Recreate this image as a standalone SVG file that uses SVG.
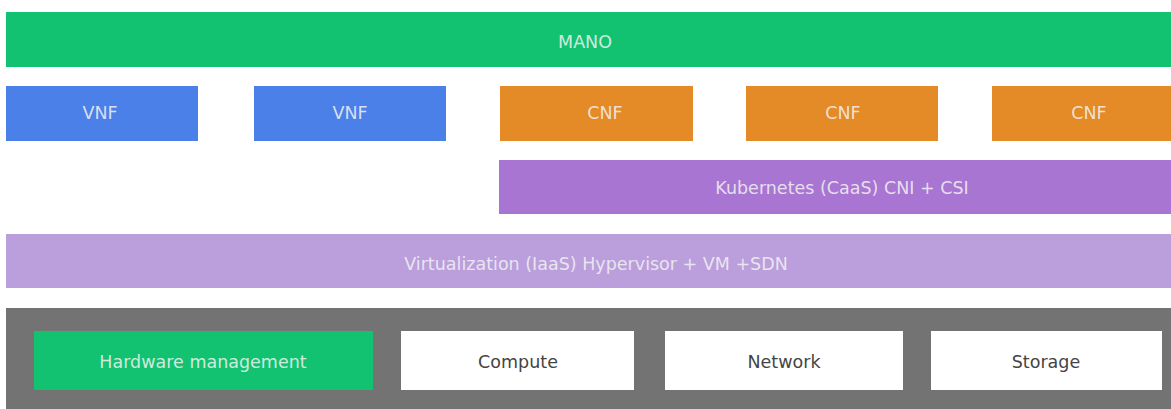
<svg xmlns="http://www.w3.org/2000/svg" width="1171" height="409" viewBox="0 0 1171 409">
<style>
text{font-family:"DejaVu Sans","Open Sans",sans-serif;font-size:17.5px;text-anchor:middle;dominant-baseline:central}
.lt{fill:#f2f2f2;fill-opacity:0.85}
.dk{fill:#444444}
.mano{fill:#13c270}
.vnf{fill:#4a80e8}
.cnf{fill:#e48a26}
.k8s{fill:#a975d2}
.virt{fill:#bb9fdc}
.hw{fill:#737373}
.wb{fill:#ffffff}
</style>
<rect width="1171" height="409" fill="#ffffff"/>
<g id="mano"><rect class="mano" x="6" y="12" width="1165" height="55"/><text class="lt" x="585" y="42">MANO</text></g>
<g id="vnf1"><rect class="vnf" x="6" y="86" width="192" height="55"/><text class="lt" x="100" y="113">VNF</text></g>
<g id="vnf2"><rect class="vnf" x="254" y="86" width="192" height="55"/><text class="lt" x="350" y="113">VNF</text></g>
<g id="cnf1"><rect class="cnf" x="500" y="86" width="193" height="55"/><text class="lt" x="605" y="113">CNF</text></g>
<g id="cnf2"><rect class="cnf" x="746" y="86" width="192" height="55"/><text class="lt" x="843" y="113">CNF</text></g>
<g id="cnf3"><rect class="cnf" x="992" y="86" width="179" height="55"/><text class="lt" x="1089" y="113">CNF</text></g>
<g id="k8s"><rect class="k8s" x="499" y="160" width="672" height="54"/><text class="lt" x="842" y="188">Kubernetes (CaaS) CNI + CSI</text></g>
<g id="virt"><rect class="virt" x="6" y="234" width="1165" height="54"/><text class="lt" x="596" y="264">Virtualization (IaaS) Hypervisor + VM +SDN</text></g>
<g id="hardware"><rect class="hw" x="6" y="308" width="1165" height="101"/></g>
<g id="hwmgmt"><rect class="mano" x="34" y="331" width="339" height="59"/><text class="lt" x="203" y="362">Hardware management</text></g>
<g id="compute"><rect class="wb" x="401" y="331" width="233" height="59"/><text class="dk" x="518" y="362">Compute</text></g>
<g id="network"><rect class="wb" x="665" y="331" width="238" height="59"/><text class="dk" x="784" y="362">Network</text></g>
<g id="storage"><rect class="wb" x="931" y="331" width="231" height="59"/><text class="dk" x="1046" y="362">Storage</text></g>
<g id="connectors"></g>
</svg>
